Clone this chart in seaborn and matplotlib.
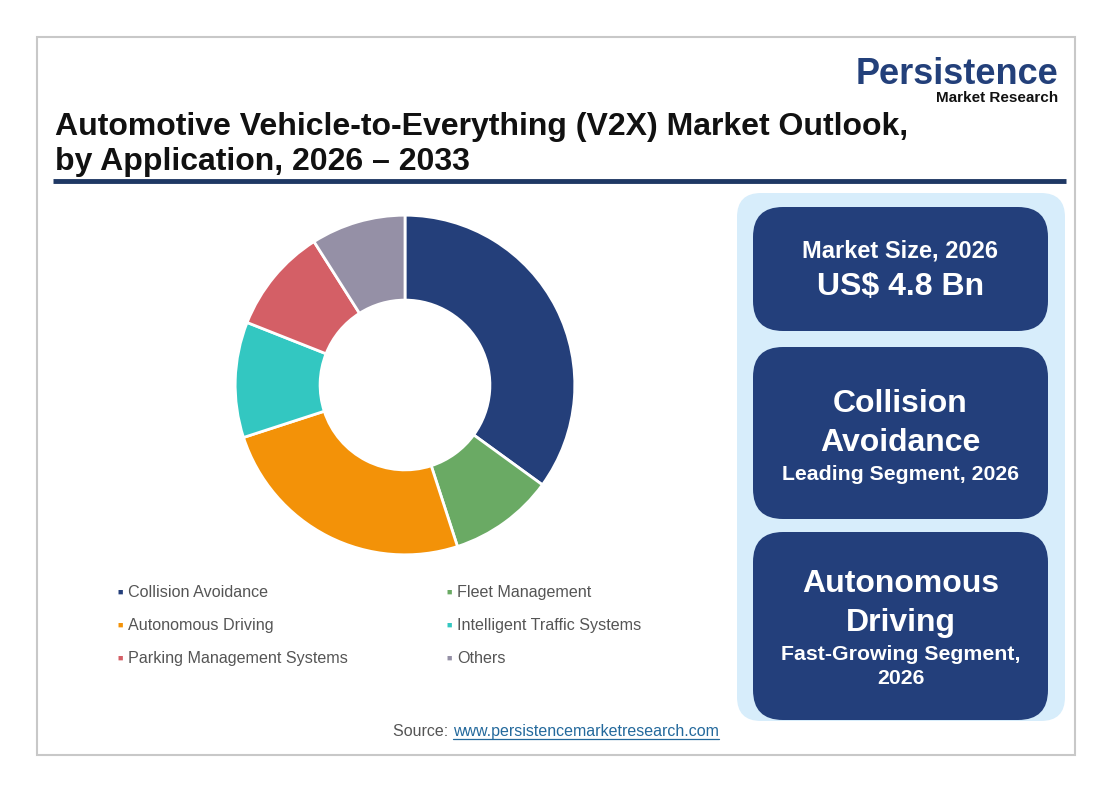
import matplotlib
matplotlib.use("Agg")
import matplotlib.pyplot as plt
from matplotlib.patches import FancyBboxPatch, Rectangle
import seaborn as sns

# data
segments = ["Collision Avoidance", "Fleet Management", "Autonomous Driving",
            "Intelligent Traffic Systems", "Parking Management Systems", "Others"]
shares = [35, 10, 25, 11, 10, 9]
seg_colors = ["#243f7a", "#6aaa64", "#f39208", "#33c7c1", "#d45f66", "#9590a6"]

title_lines = ["Automotive Vehicle-to-Everything (V2X) Market Outlook,",
               "by Application, 2026 \u2013 2033"]
market_label = "Market Size, 2026"
market_value = "US$ 4.8 Bn"
leading = ["Collision", "Avoidance"]
leading_note = "Leading Segment, 2026"
fastest = ["Autonomous", "Driving"]
fastest_note = ["Fast-Growing Segment,", "2026"]

sns.set_theme(style="white")
plt.rcParams["font.family"] = ["Liberation Sans", "DejaVu Sans"]

W, H = 1112, 792
fig = plt.figure(figsize=(W / 100, H / 100), dpi=100)
fig.patch.set_facecolor("white")

# pixel-space canvas for the frame, text and cards
bg = fig.add_axes([0, 0, 1, 1])
bg.set_xlim(0, W)
bg.set_ylim(H, 0)
bg.axis("off")

bg.add_patch(Rectangle((37, 37), 1038, 718, fill=False, ec="#c8c8c8", lw=1.5))
bg.plot([53, 1066], [181, 181], color="#1f3864", lw=3.5, solid_capstyle="butt")

bg.text(55, 135, title_lines[0], fontsize=23, fontweight="bold", color="#111111", va="baseline")
bg.text(55, 170, title_lines[1], fontsize=23, fontweight="bold", color="#111111", va="baseline")

# logo
bg.text(1058, 84, "Persistence", fontsize=26, fontweight="bold", color="#23407a",
        ha="right", va="baseline")
bg.text(1058, 102, "Market Research", fontsize=11, fontweight="bold", color="#111111",
        ha="right", va="baseline")

# side panel
bg.add_patch(FancyBboxPatch((737, 193), 328, 528, boxstyle="round,pad=0,rounding_size=24",
                            fc="#d7edfb", ec="none"))
card = "#233f7b"
for y0, h in [(207, 124), (347, 172), (532, 188)]:
    bg.add_patch(FancyBboxPatch((753, y0), 295, h, boxstyle="round,pad=0,rounding_size=30",
                                fc=card, ec="none"))

cx = 900.5
big, small = 23, 15.3
kw = dict(fontweight="bold", color="white", ha="center", va="center")
bg.text(cx, 251, market_label, fontsize=17, **kw)
bg.text(cx, 287, market_value, fontsize=big, **kw)
bg.text(cx, 404, leading[0], fontsize=big, **kw)
bg.text(cx, 443, leading[1], fontsize=big, **kw)
bg.text(cx, 474, leading_note, fontsize=small, **kw)
bg.text(cx, 584, fastest[0], fontsize=big, **kw)
bg.text(cx, 623, fastest[1], fontsize=big, **kw)
bg.text(cx, 654, fastest_note[0], fontsize=small, **kw)
bg.text(cx, 679, fastest_note[1], fontsize=small, **kw)

# legend, two columns, row-major
for i, (name, col) in enumerate(zip(segments, seg_colors)):
    x = 117 + (i % 2) * 329
    y = 597 + (i // 2) * 33
    bg.text(x, y - 5, "\u25A0", fontsize=6.5, color=col, ha="left", va="center")
    bg.text(x + 11, y, name, fontsize=11.6, color="#555555", ha="left", va="baseline")

# source line
bg.text(393, 736, "Source: ", fontsize=11.5, color="#555555", ha="left", va="baseline")
link = bg.text(453, 736, "www.persistencemarketresearch.com", fontsize=11.5, color="#24699c",
               ha="left", va="baseline")
fig.canvas.draw()
bb = link.get_window_extent().transformed(bg.transData.inverted())
bg.plot([bb.x0, bb.x1], [739, 739], color="#24699c", lw=0.9)

# donut
ax = fig.add_axes([225 / W, (H - 565) / H, 360 / W, 360 / H])
ax.set_facecolor("none")
ax.pie(shares, colors=seg_colors, startangle=90, counterclock=False,
       wedgeprops=dict(width=0.5, edgecolor="white", linewidth=2))
ax.set_xlim(-1.06, 1.06)
ax.set_ylim(-1.06, 1.06)
ax.set_aspect("equal")
ax.axis("off")

fig.savefig("out.png", dpi=100, facecolor="white")
